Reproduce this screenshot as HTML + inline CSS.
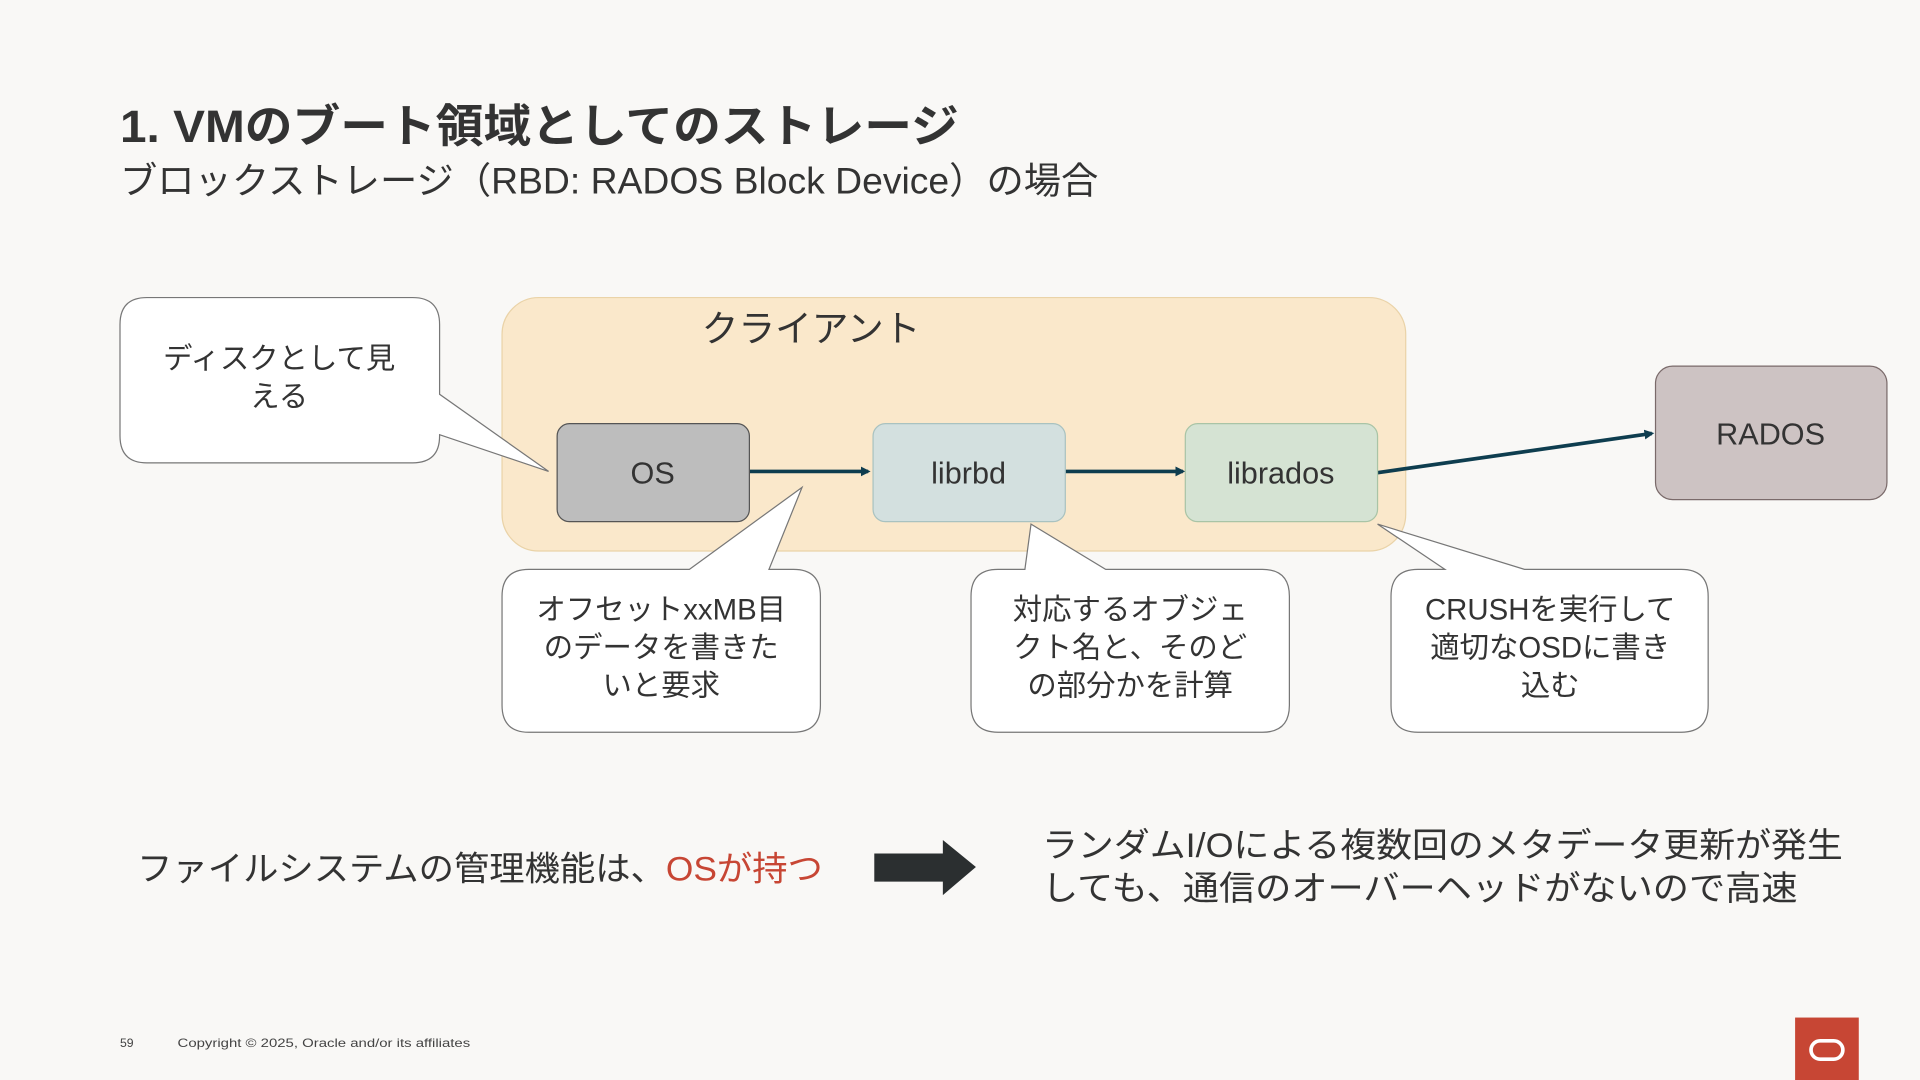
<!DOCTYPE html>
<html><head><meta charset="utf-8"><style>
html,body{margin:0;padding:0;background:#f9f8f6;}
svg{display:block}
text{font-family:"Liberation Sans","Noto Sans CJK JP",sans-serif;}
</style></head><body>
<svg width="1920" height="1080" viewBox="0 0 1568 882" xmlns="http://www.w3.org/2000/svg">
<rect width="1568" height="882" fill="#f9f8f6"/>
<text x="98" y="116" font-size="37" font-weight="bold" fill="#333" textLength="685" lengthAdjust="spacingAndGlyphs">1. VMのブート領域としてのストレージ</text>
<text x="98" y="158" font-size="30" fill="#333" textLength="799" lengthAdjust="spacingAndGlyphs">ブロックストレージ（RBD: RADOS Block Device）の場合</text>

<rect x="410" y="243" width="738" height="207" rx="30" fill="#fae8cb" stroke="#ead3a8" stroke-width="1"/>
<text x="573" y="279" font-size="30" fill="#333">クライアント</text>

<defs><marker id="ah" markerWidth="8" markerHeight="8" refX="6" refY="4" orient="auto" markerUnits="userSpaceOnUse"><path d="M0,0 L8,4 L0,8 Z" fill="#0e3d4f"/></marker></defs>
<line x1="612" y1="385" x2="709" y2="385" stroke="#0e3d4f" stroke-width="3" marker-end="url(#ah)"/>
<line x1="870" y1="385" x2="966" y2="385" stroke="#0e3d4f" stroke-width="3" marker-end="url(#ah)"/>
<line x1="1125" y1="386" x2="1349" y2="354" stroke="#0e3d4f" stroke-width="3" marker-end="url(#ah)"/>

<rect x="455" y="346" width="157" height="80" rx="10" fill="#bdbdbd" stroke="#555" stroke-width="1"/>
<text x="533" y="395" font-size="25" fill="#333" text-anchor="middle">OS</text>
<rect x="713" y="346" width="157" height="80" rx="10" fill="#d3e0df" stroke="#a9c2c0" stroke-width="1"/>
<text x="791" y="395" font-size="25" fill="#333" text-anchor="middle">librbd</text>
<rect x="968" y="346" width="157" height="80" rx="10" fill="#d5e3d3" stroke="#a9c4a6" stroke-width="1"/>
<text x="1046" y="395" font-size="25" fill="#333" text-anchor="middle">librados</text>
<rect x="1352" y="299" width="189" height="109" rx="14" fill="#cdc3c3" stroke="#7a6a6a" stroke-width="1"/>
<text x="1446" y="363" font-size="25" fill="#333" text-anchor="middle">RADOS</text>

<g fill="#fff" stroke="#777" stroke-width="1">
<path d="M120,243 H337 Q359,243 359,265 V322 L448,385 L359,355 V356 Q359,378 337,378 H120 Q98,378 98,356 V265 Q98,243 120,243 Z"/>
<path d="M432,465 H563 L655,398 L628,465 H648 Q670,465 670,487 V576 Q670,598 648,598 H432 Q410,598 410,576 V487 Q410,465 432,465 Z"/>
<path d="M815,465 H837 L842,428 L903,465 H1031 Q1053,465 1053,487 V576 Q1053,598 1031,598 H815 Q793,598 793,576 V487 Q793,465 815,465 Z"/>
<path d="M1158,465 H1180 L1125,428 L1245,465 H1373 Q1395,465 1395,487 V576 Q1395,598 1373,598 H1158 Q1136,598 1136,576 V487 Q1136,465 1158,465 Z"/>
</g>
<g font-size="24" fill="#333" text-anchor="middle">
<text x="228" y="301">ディスクとして見</text><text x="228" y="332">える</text>
<text x="540" y="506">オフセットxxMB目</text><text x="540" y="537">のデータを書きた</text><text x="540" y="568">いと要求</text>
<text x="923" y="506">対応するオブジェ</text><text x="923" y="537">クト名と、そのど</text><text x="923" y="568">の部分かを計算</text>
<text x="1266" y="506">CRUSHを実行して</text><text x="1266" y="537">適切なOSDに書き</text><text x="1266" y="568">込む</text>
</g>

<text x="112" y="719" font-size="28" fill="#333" textLength="560" lengthAdjust="spacingAndGlyphs">ファイルシステムの管理機能は、<tspan fill="#c74634">OSが持つ</tspan></text>
<path d="M714,697 H770 V686 L797,708 L770,731 V720 H714 Z" fill="#2b2f30"/>
<text x="851" y="700" font-size="28" fill="#333" textLength="654" lengthAdjust="spacingAndGlyphs">ランダムI/Oによる複数回のメタデータ更新が発生</text>
<text x="851" y="735" font-size="28" fill="#333" textLength="617" lengthAdjust="spacingAndGlyphs">しても、通信のオーバーヘッドがないので高速</text>

<text x="98" y="855" font-size="10" fill="#444">59</text>
<text x="145" y="855" font-size="10" fill="#444" textLength="239" lengthAdjust="spacingAndGlyphs">Copyright © 2025, Oracle and/or its affiliates</text>
<rect x="1466" y="831" width="52" height="51" fill="#c74634"/>
<rect x="1479" y="850" width="26" height="15" rx="7.5" fill="none" stroke="#fff" stroke-width="3"/>
</svg>
</body></html>
